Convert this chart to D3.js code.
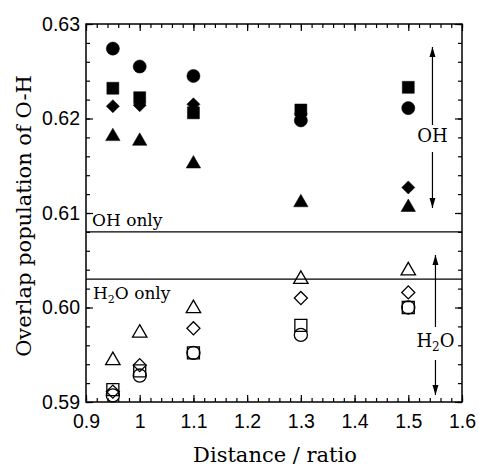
<!DOCTYPE html>
<html>
<head>
<meta charset="utf-8">
<script src="https://cdn.jsdelivr.net/npm/d3@7"></script>
<style>
  body { margin: 0; background: #fff; }
  svg { display: block; }
</style>
</head>
<body>
<div id="chart"></div>
<script>
// data
const distances = [0.95, 1.0, 1.1, 1.3, 1.5];

// OH (filled markers)
const ohCircle   = [0.6274, 0.6255, 0.6245, 0.6198, 0.6211];
const ohSquare   = [0.6232, 0.6222, 0.6206, 0.6209, 0.6233];
const ohDiamond  = [0.6213, 0.6214, 0.6215, 0.6205, 0.6127];
const ohTriangle = [0.6181, 0.6176, 0.6152, 0.6111, 0.6106];

// H2O (open markers)
const h2oCircle   = [0.5907, 0.5928, 0.5952, 0.5971, 0.6000];
const h2oSquare   = [0.5913, 0.5933, 0.5952, 0.5981, 0.6000];
const h2oDiamond  = [0.5911, 0.5939, 0.5978, 0.6010, 0.6016];
const h2oTriangle = [0.5944, 0.5973, 0.5999, 0.6030, 0.6039];

// reference levels
const ohOnly = 0.6080;
const h2oOnly = 0.6030;

const xTicks = [0.9, 1.0, 1.1, 1.2, 1.3, 1.4, 1.5, 1.6];
const yTicks = [0.59, 0.60, 0.61, 0.62, 0.63];

const W = 479, H = 467;
const margin = { top: 24, right: 17, bottom: 65, left: 86 };
const width = W - margin.left - margin.right;
const height = H - margin.top - margin.bottom;

const svg = d3.select("#chart").append("svg")
    .attr("width", W)
    .attr("height", H);

const g = svg.append("g")
    .attr("transform", "translate(" + margin.left + "," + margin.top + ")");

const x = d3.scaleLinear().domain([0.9, 1.6]).range([0, width]);
const y = d3.scaleLinear().domain([0.59, 0.63]).range([height, 0]);

const sans = "'Liberation Sans', Arial, sans-serif";
const serif = "'DejaVu Serif', serif";

// minor ticks (no labels)
const xMinor = d3.range(0.9, 1.6001, 0.02);
const yMinor = d3.range(0.59, 0.63001, 0.002);

function styleAxis(sel) {
    sel.select(".domain").remove();
    sel.selectAll(".tick line").attr("stroke", "#000").attr("stroke-width", 1.2);
}

g.append("g").attr("transform", "translate(0," + height + ")")
    .call(d3.axisBottom(x).tickValues(xMinor).tickSize(-4).tickFormat(""))
    .call(styleAxis);
g.append("g")
    .call(d3.axisTop(x).tickValues(xMinor).tickSize(-4).tickFormat(""))
    .call(styleAxis);
g.append("g")
    .call(d3.axisLeft(y).tickValues(yMinor).tickSize(-4).tickFormat(""))
    .call(styleAxis);
g.append("g").attr("transform", "translate(" + width + ",0)")
    .call(d3.axisRight(y).tickValues(yMinor).tickSize(-4).tickFormat(""))
    .call(styleAxis);

// major ticks with labels
g.append("g").attr("transform", "translate(0," + height + ")")
    .call(d3.axisBottom(x).tickValues(xTicks).tickSize(-7).tickPadding(12)
        .tickFormat(d => d === 1 ? "1" : d3.format(".1f")(d)))
    .call(styleAxis)
    .selectAll("text")
    .style("font-family", sans).style("font-size", "19.5px").attr("fill", "#000");
g.append("g")
    .call(d3.axisTop(x).tickValues(xTicks).tickSize(-7).tickFormat(""))
    .call(styleAxis);
g.append("g")
    .call(d3.axisLeft(y).tickValues(yTicks).tickSize(-7).tickPadding(6)
        .tickFormat(d3.format(".2f")))
    .call(styleAxis)
    .selectAll("text")
    .style("font-family", sans).style("font-size", "19.5px").attr("fill", "#000");
g.append("g").attr("transform", "translate(" + width + ",0)")
    .call(d3.axisRight(y).tickValues(yTicks).tickSize(-7).tickFormat(""))
    .call(styleAxis);

// frame
g.append("rect")
    .attr("width", width).attr("height", height)
    .attr("fill", "none").attr("stroke", "#000").attr("stroke-width", 1.5);

// reference lines
[ohOnly, h2oOnly].forEach(v => {
    g.append("line")
        .attr("x1", 0).attr("x2", width)
        .attr("y1", y(v)).attr("y2", y(v))
        .attr("stroke", "#000").attr("stroke-width", 1.3);
});

g.append("text")
    .attr("x", 6).attr("y", y(ohOnly) - 6)
    .style("font-family", serif).style("font-size", "17px")
    .text("OH only");

const h2oText = g.append("text")
    .attr("x", 7).attr("y", y(h2oOnly) + 20)
    .style("font-family", serif).style("font-size", "17px");
h2oText.append("tspan").text("H");
h2oText.append("tspan").text("2").attr("dy", 4).style("font-size", "11px");
h2oText.append("tspan").text("O only").attr("dy", -4);

// markers
const symbols = {
    circle: d3.symbol().type(d3.symbolCircle).size(135),
    square: d3.symbol().type(d3.symbolSquare).size(144),
    diamond: d3.symbol().type(d3.symbolSquare).size(85),
    triangle: d3.symbol().type(d3.symbolTriangle).size(90)
};

const series = [
    { vals: ohCircle, shape: "circle", filled: true },
    { vals: ohSquare, shape: "square", filled: true },
    { vals: ohDiamond, shape: "diamond", filled: true },
    { vals: ohTriangle, shape: "triangle", filled: true },
    { vals: h2oCircle, shape: "circle", filled: false },
    { vals: h2oSquare, shape: "square", filled: false },
    { vals: h2oDiamond, shape: "diamond", filled: false },
    { vals: h2oTriangle, shape: "triangle", filled: false }
];

series.forEach(s => {
    const pts = distances.map((d, i) => ({ x: d, y: s.vals[i] }));
    g.selectAll(null)
        .data(pts)
        .enter()
        .append("path")
        .attr("d", symbols[s.shape])
        .attr("transform", d => "translate(" + x(d.x) + "," + y(d.y) + ")" +
            (s.shape === "diamond" ? " rotate(45)" : ""))
        .attr("fill", s.filled ? "#000" : "none")
        .attr("stroke", "#000")
        .attr("stroke-width", s.filled ? 0.5 : 1.3);
});

// OH / H2O arrows
svg.append("defs").append("marker")
    .attr("id", "arrow")
    .attr("viewBox", "0 0 10 10")
    .attr("refX", 10).attr("refY", 5)
    .attr("markerWidth", 10).attr("markerHeight", 10)
    .attr("markerUnits", "userSpaceOnUse")
    .attr("orient", "auto")
    .append("path")
    .attr("d", "M0,2 L10,5 L0,8 Z")
    .attr("fill", "#000");

function arrow(x0, y0, y1) {
    g.append("line")
        .attr("x1", x0).attr("x2", x0)
        .attr("y1", y0).attr("y2", y1)
        .attr("stroke", "#000").attr("stroke-width", 1.2)
        .attr("marker-end", "url(#arrow)");
}

const ax = x(1.545);
arrow(ax, 101, 23);
arrow(ax, 128, 184);
arrow(ax + 3, 303, 231);
arrow(ax + 3, 336, 371);

g.append("text")
    .attr("x", ax).attr("y", 118)
    .attr("text-anchor", "middle")
    .style("font-family", serif).style("font-size", "18px")
    .text("OH");

const h2oLab = g.append("text")
    .attr("x", ax + 3).attr("y", 323)
    .attr("text-anchor", "middle")
    .style("font-family", serif).style("font-size", "18px");
h2oLab.append("tspan").text("H");
h2oLab.append("tspan").text("2").attr("dy", 4).style("font-size", "12px");
h2oLab.append("tspan").text("O").attr("dy", -4);

// axis titles
svg.append("text")
    .attr("x", margin.left + width / 2 + 1).attr("y", 462)
    .attr("text-anchor", "middle")
    .style("font-family", serif).style("font-size", "21px")
    .text("Distance / ratio");

svg.append("text")
    .attr("transform", "translate(31," + 216 + ") rotate(-90)")
    .attr("text-anchor", "middle")
    .style("font-family", serif).style("font-size", "21px")
    .text("Overlap population of O-H");
</script>
</body>
</html>
